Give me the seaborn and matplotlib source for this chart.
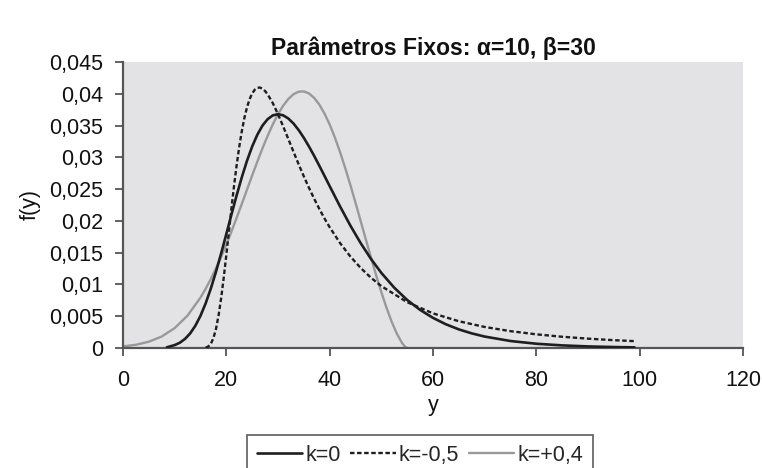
import matplotlib
matplotlib.use("Agg")
import matplotlib.pyplot as plt
import seaborn as sns
import pandas as pd

# --- data ---
y_k0 = [8.5, 9, 10, 11, 12, 13, 14, 15, 16, 17, 18, 19, 20, 21, 22, 23, 24, 25, 26, 27,
        28, 29, 30, 31, 32, 33, 34, 35, 36, 37, 38, 39, 40, 42, 44, 46, 48, 50, 52.5,
        55, 57.5, 60, 62.5, 65, 67.5, 70, 75, 80, 85, 90, 95, 99]
f_k0 = [0.00012, 0.00023, 0.00046, 0.00083, 0.00143, 0.0023, 0.0035, 0.00507, 0.00703,
        0.00936, 0.0120, 0.0149, 0.01794, 0.02102, 0.02403, 0.02688, 0.02946, 0.0317,
        0.03356, 0.035, 0.03601, 0.0366, 0.03679, 0.03661, 0.03611, 0.03532, 0.03429,
        0.03307, 0.0317, 0.03023, 0.02867, 0.02708, 0.02547, 0.02229, 0.01927, 0.0165,
        0.01401, 0.01182, 0.00949, 0.00756, 0.006, 0.00474, 0.00373, 0.00293, 0.0023,
        0.0018, 0.0011, 0.00067, 0.00041, 0.00025, 0.00015, 0.0001]

y_kneg = [16, 16.5, 17, 17.5, 18, 18.5, 19, 19.5, 20, 20.5, 21, 21.5, 22, 22.5, 23,
          23.5, 24, 24.5, 25, 25.5, 26, 26.5, 27, 27.5, 28, 29, 30, 31, 32, 33, 34, 35,
          36, 37, 38, 39, 40, 42, 44, 46, 48, 50, 55, 60, 65, 70, 75, 80, 85, 90, 95, 99]
f_kneg = [0.00006, 0.00023, 0.00066, 0.00155, 0.00302, 0.00514, 0.00787, 0.01109,
          0.01465, 0.01836, 0.02205, 0.02557, 0.02879, 0.03166, 0.03414, 0.03622,
          0.03787, 0.03915, 0.04005, 0.04064, 0.04094, 0.04098, 0.0408, 0.04043, 0.0399,
          0.03852, 0.03679, 0.03487, 0.03288, 0.03087, 0.0289, 0.027, 0.02519, 0.02348,
          0.02188, 0.02038, 0.019, 0.01652, 0.0144, 0.0126, 0.01105, 0.00974, 0.00721,
          0.00545, 0.00421, 0.00331, 0.00265, 0.00215, 0.00177, 0.00147, 0.00123, 0.00108]

y_kpos = [0, 2.5, 5, 7.5, 10, 12.5, 15, 16, 17, 18, 19, 20, 21, 22, 23, 24, 25, 26, 27,
          28, 29, 30, 31, 32, 33, 34, 35, 36, 37, 38, 39, 40, 41, 42, 43, 44, 45, 46, 47,
          48, 49, 50, 51, 52, 53, 54, 54.5, 55]
f_kpos = [0.00025, 0.00051, 0.00099, 0.00181, 0.00313, 0.00511, 0.00794, 0.00932,
          0.01086, 0.01254, 0.01435, 0.01629, 0.01835, 0.02049, 0.02269, 0.02492, 0.02715,
          0.02932, 0.03143, 0.03339, 0.0352, 0.03679, 0.03813, 0.03918, 0.03993, 0.04033,
          0.04037, 0.04005, 0.03935, 0.0383, 0.03689, 0.03517, 0.03314, 0.03085, 0.02835,
          0.02567, 0.02286, 0.01998, 0.01708, 0.01422, 0.01143, 0.00879, 0.00634, 0.00414,
          0.00226, 0.0008, 0.00028, 0.0]

series_labels = ["k=0", "k=-0,5", "k=+0,4"]
y_ticks = [0, 0.005, 0.01, 0.015, 0.02, 0.025, 0.03, 0.035, 0.04, 0.045]
y_tick_labels = ["0", "0,005", "0,01", "0,015", "0,02", "0,025", "0,03", "0,035", "0,04", "0,045"]
x_ticks = [0, 20, 40, 60, 80, 100, 120]
title = "Parâmetros Fixos: α=10, β=30"

sns.set_theme(style="white")
plt.rcParams["font.family"] = ["Liberation Sans", "DejaVu Sans"]

fig = plt.figure(figsize=(7.62, 4.68), dpi=100)
ax = fig.add_axes([123 / 762, 1 - 348 / 468, 620 / 762, (348 - 62) / 468])
ax.set_facecolor("#e3e3e5")

df0 = pd.DataFrame({"y": y_k0, "f": f_k0})
df1 = pd.DataFrame({"y": y_kneg, "f": f_kneg})
df2 = pd.DataFrame({"y": y_kpos, "f": f_kpos})

sns.lineplot(data=df2, x="y", y="f", ax=ax, color="#999999", linewidth=1.7,
             label=series_labels[2], zorder=2)
sns.lineplot(data=df1, x="y", y="f", ax=ax, color="#1e1e1e", linewidth=1.7,
             linestyle=(0, (1.9, 1.1)), label=series_labels[1], zorder=3)
sns.lineplot(data=df0, x="y", y="f", ax=ax, color="#1e1e1e", linewidth=1.9,
             label=series_labels[0], zorder=4)

ax.set_xlim(0, 120)
ax.set_ylim(0, 0.045)
ax.set_xticks(x_ticks)
ax.set_xticklabels([str(t) for t in x_ticks])
ax.set_yticks(y_ticks)
ax.set_yticklabels(y_tick_labels)

for s in ["top", "right"]:
    ax.spines[s].set_visible(False)
for s in ["left", "bottom"]:
    ax.spines[s].set_color("#555555")
    ax.spines[s].set_linewidth(1.6)
ax.tick_params(axis="both", which="major", direction="out", length=5.5, width=1.3,
               color="#555555", labelsize=15.5, labelcolor="#111111",
               left=True, bottom=True)
ax.tick_params(axis="x", pad=10)
ax.tick_params(axis="y", pad=9)

ax.set_xlabel("y", fontsize=15.5, color="#111111", labelpad=3)
ax.set_ylabel("f(y)", fontsize=15.5, color="#111111", labelpad=6)
ax.set_title(title, fontsize=16.5, fontweight="bold", color="#111111", pad=5)

ax.get_legend().remove()
handles, labels = ax.get_legend_handles_labels()
order = [2, 1, 0]
handles = [handles[i] for i in order]
labels = [labels[i] for i in order]
leg = fig.legend(handles, labels, loc="upper center", ncol=3,
                 bbox_to_anchor=(420 / 762, 1 - 435 / 468), frameon=True,
                 fancybox=False, fontsize=15.5, handlelength=2.1, handletextpad=0.15,
                 columnspacing=0.45, borderpad=0.45, borderaxespad=0)
leg.get_frame().set_edgecolor("#444444")
leg.get_frame().set_linewidth(1.3)

fig.savefig("out.png", dpi=100)
